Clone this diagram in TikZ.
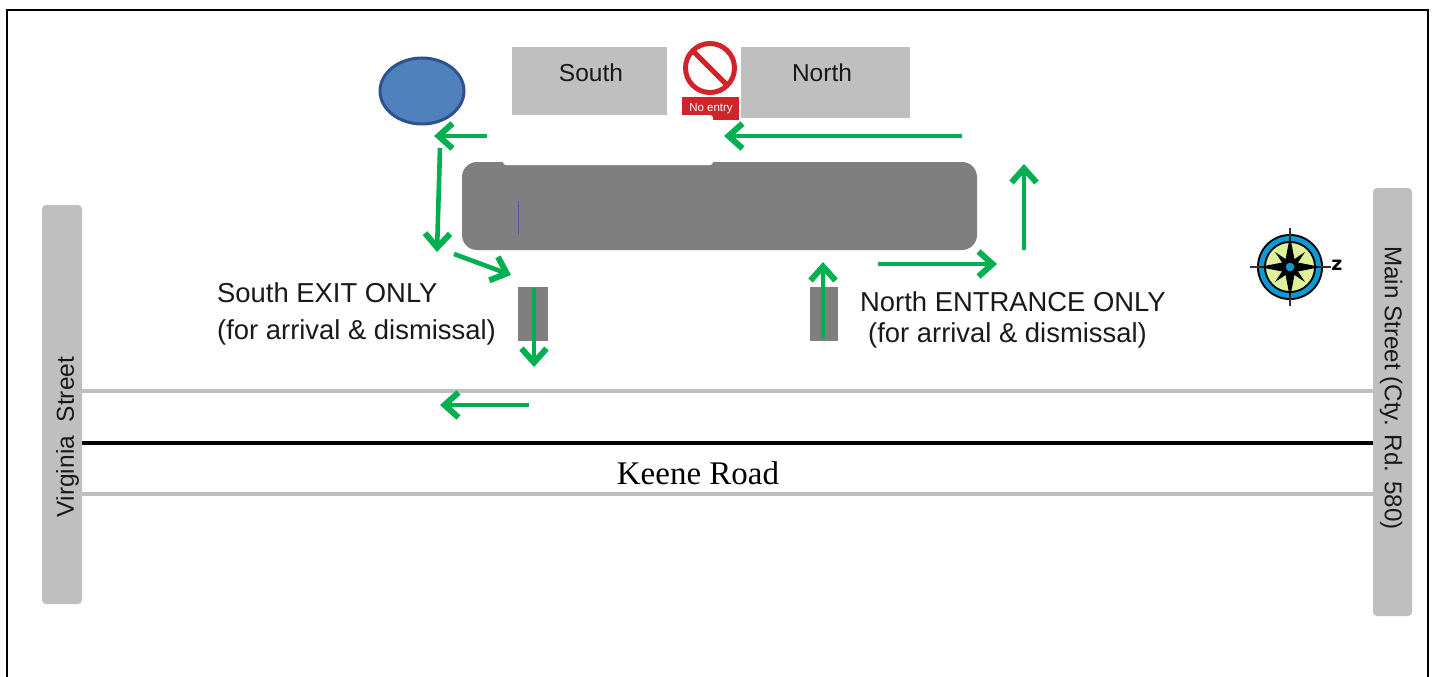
\documentclass[tikz,border=0pt]{standalone}
\usepackage{fontspec}
\setmainfont{Liberation Sans}
\newfontfamily\serifkeene{Liberation Serif}
\newfontfamily\heavyz{DejaVu Sans}
\usetikzlibrary{arrows.meta}
\definecolor{roadgray}{HTML}{BFBFBF}
\definecolor{bldgray}{HTML}{7F7F7F}
\definecolor{arrowgreen}{HTML}{00B050}
\definecolor{pondblue}{HTML}{4F81BD}
\definecolor{pondedge}{HTML}{2F528F}
\definecolor{signred}{HTML}{D2232A}
\definecolor{compassblue}{HTML}{0A9AD6}
\definecolor{compassgreen}{HTML}{DDF09A}
\tikzset{
  x=1pt,y=-1pt,
  road/.style={fill=roadgray,draw=none,rounded corners=4pt},
  lotbox/.style={fill=roadgray,draw=none},
  flow/.style={draw=arrowgreen,line width=4.6pt,-{Straight Barb[length=14pt,width=25pt,line width=6pt]}},
  lbl/.style={font=\fontsize{27.4pt}{31pt}\selectfont,text=black!90,inner sep=0pt,anchor=west},
  boxlbl/.style={font=\fontsize{24.5pt}{30pt}\selectfont,text=black!90,inner sep=0pt},
  thin road/.style={draw=roadgray,line width=4.5pt}
}
\begin{document}
\begin{tikzpicture}
\useasboundingbox (0,0) rectangle (1448,677);
\fill[white] (0,0) rectangle (1448,677);
% outer frame
\draw[black,line width=2.4pt] (7,677) -- (7,10) -- (1428,10) -- (1428,677);
% streets
\coordinate (kl1) at (82,391); \coordinate (kr1) at (1373,391);
\coordinate (kl2) at (82,443); \coordinate (kr2) at (1373,443);
\coordinate (kl3) at (82,494); \coordinate (kr3) at (1373,494);
\draw[thin road] (kl1) -- (kr1);
\draw[black,line width=4.5pt] (kl2) -- (kr2);
\draw[thin road] (kl3) -- (kr3);
\fill[road] (42,205) rectangle (82,604);
\fill[road] (1373,188) rectangle (1412,616);
\node[boxlbl,rotate=90] (virginia) at (67.5,437) {Virginia\ \ Street};
\node[boxlbl,rotate=-90,font=\fontsize{24.2pt}{30pt}\selectfont] (mainst) at (1391,388) {Main Street (Cty. Rd. 580)};
\node[font=\serifkeene\fontsize{33pt}{36pt}\selectfont,text=black,inner sep=0pt] (keene) at (698,473) {Keene Road};
% parking boxes
\fill[lotbox] (512,47) rectangle (667,115);
\fill[lotbox] (741,47) rectangle (910,118);
\node[boxlbl] (south) at (591,73) {South};
\node[boxlbl] (north) at (822,73) {North};
% no entry sign
\fill[white] (679,38) rectangle (741,120);
\draw[signred,line width=5pt] (710,68) circle (24.5);
\draw[signred,line width=5pt] (693,51) -- (727,85);
\fill[signred] (682,97) rectangle (739,120);
\node[font=\fontsize{11.5pt}{13pt}\selectfont,text=white,inner sep=0pt] (noentry) at (711,108.5) {No entry};
% building and white patch
\fill[bldgray,rounded corners=15pt] (462,162) rectangle (977,250);
\fill[white,rounded corners=3pt] (503,115) rectangle (713,165);
\draw[blue!35!bldgray,line width=1pt] (518,201) -- (518,234);
% pond
\draw[pondedge,fill=pondblue,line width=3pt] (422,91) ellipse (42 and 33);
% driveway stubs
\fill[bldgray] (518,287) rectangle (548,341);
\fill[bldgray] (810,287) rectangle (838,341);
% labels
\node[lbl] (sexit) at (217,293) {South EXIT ONLY};
\node[lbl] (sfor) at (217,332) {(for arrival \& dismissal)};
\node[lbl] (nent) at (860,302) {North ENTRANCE ONLY};
\node[lbl] (nfor) at (868,335) {(for arrival \& dismissal)};
% flow arrows
\coordinate (a1s) at (962,136); \coordinate (a1e) at (724,136);
\coordinate (a2s) at (487,136); \coordinate (a2e) at (434,136);
\coordinate (a3s) at (440,148); \coordinate (a3e) at (437,252);
\coordinate (a4s) at (454,254); \coordinate (a4e) at (511,275);
\coordinate (a5s) at (534,288); \coordinate (a5e) at (534,367);
\coordinate (a6s) at (529,405); \coordinate (a6e) at (440,405);
\coordinate (a7s) at (823,338); \coordinate (a7e) at (823,262);
\coordinate (a8s) at (878,264); \coordinate (a8e) at (997,264);
\coordinate (a9s) at (1024,250); \coordinate (a9e) at (1024,164);
\foreach \i in {1,...,9} \draw[flow] (a\i s) -- (a\i e);
% compass
\coordinate (cc) at (1290,267);
\fill[black] (cc) circle (33);
\fill[compassblue] (cc) circle (31);
\fill[black] (cc) circle (26);
\fill[compassgreen] (cc) circle (24);
\draw[black!80,line width=1.8pt] (1250,267) -- (1331,267);
\draw[black!80,line width=1.8pt] (1290,228) -- (1290,306);
\fill[black] (1290,236) -- (1295,262) -- (1321,267) -- (1295,272) -- (1290,298) -- (1285,272) -- (1259,267) -- (1285,262) -- cycle;
\fill[black] (1275,252) -- (1293,264) -- (1305,282) -- (1287,270) -- cycle;
\fill[black] (1305,252) -- (1293,270) -- (1275,282) -- (1287,264) -- cycle;
\fill[compassblue,draw=black,line width=1pt] (cc) circle (5);
\node[font=\heavyz\bfseries\fontsize{19pt}{21pt}\selectfont,inner sep=0pt] (znorth) at (1337,265) {z};
\end{tikzpicture}
\end{document}
